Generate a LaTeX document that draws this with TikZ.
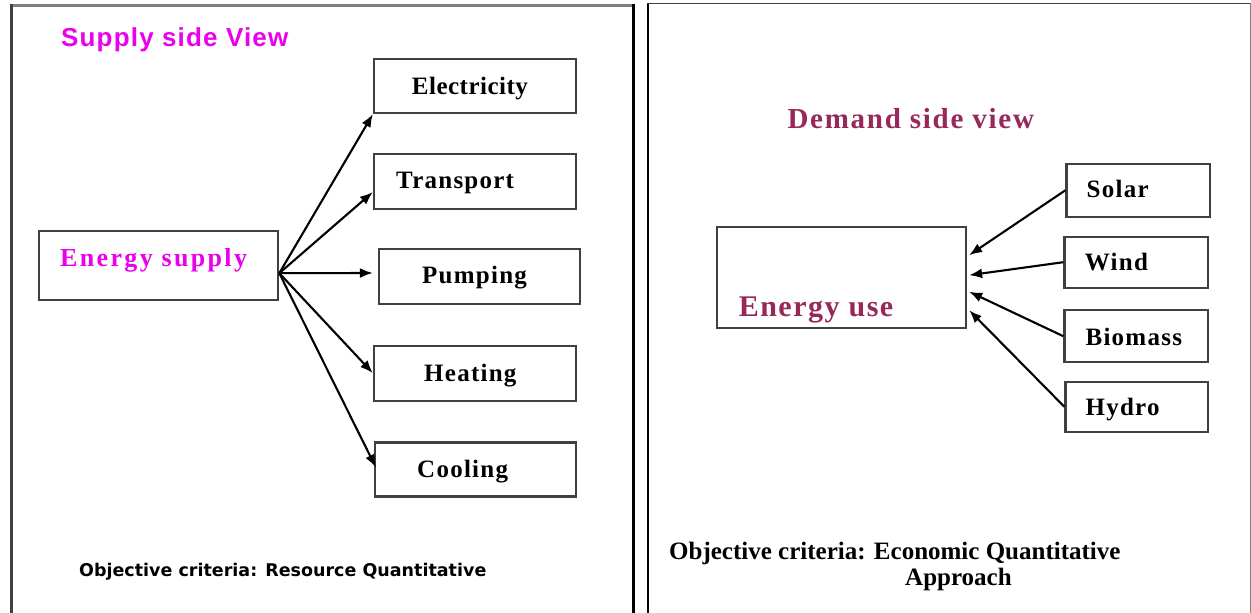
\documentclass[tikz,border=0pt]{standalone}
\usepackage{fontspec}
\setmainfont{Liberation Serif}
\newfontfamily\boxf[LetterSpace=5]{Liberation Serif}
\newfontfamily\tightf[LetterSpace=2]{Liberation Serif}
\newfontfamily\wideserif[LetterSpace=6]{Liberation Serif}
\newfontfamily\esf[LetterSpace=9]{Liberation Serif}
\newfontfamily\titlesans[LetterSpace=4.5]{Liberation Sans}
\newfontfamily\notesans{DejaVu Sans}
\usetikzlibrary{arrows.meta}
\definecolor{mag}{RGB}{235,0,235}
\definecolor{wine}{RGB}{150,40,90}
\definecolor{edge}{RGB}{64,64,64}
\definecolor{lgray}{RGB}{128,128,128}
\begin{document}
\begin{tikzpicture}[x=1pt,y=-1pt,
  box/.style={draw=edge,line width=2.2pt,inner sep=0pt},
  lbl/.style={anchor=base west,inner sep=0pt,font=\boxf\bfseries\fontsize{25}{30}\selectfont},
  arr/.style={line width=2.1pt,-{Latex[length=13pt,width=10pt]}},
  frame/.style={line width=2.7pt}]
\useasboundingbox (0,0) rectangle (1251,613);
% panel frames
\draw[frame,lgray] (10,5.3) -- (633,5.3);
\draw[frame,edge] (11.3,4) -- (11.3,613);
\draw[frame,black] (633.3,4) -- (633.3,613);
\draw[frame,black] (648,2.5) -- (648,613);
\draw[line width=1.7pt,edge] (647,3.5) -- (1250.5,3.5);
\draw[line width=1.5pt,lgray] (1250.3,3) -- (1250.3,613);

% left panel
\node[anchor=base west,inner sep=0pt,text=mag,font=\titlesans\bfseries\fontsize{26}{30}\selectfont] (stitle) at (61,46.7) {Supply side View};
\node[box,minimum width=239pt,minimum height=69pt] (es) at (158.7,265.2) {};
\node[anchor=base west,inner sep=0pt,text=mag,font=\esf\bfseries\fontsize{26}{30}\selectfont] (esT) at (60,266.7) {Energy supply};
\node[box,minimum width=202pt,minimum height=54pt] (elec) at (475,86) {};
\node[box,minimum width=202pt,minimum height=55pt] (trans) at (475,181.5) {};
\node[box,minimum width=201pt,minimum height=55pt] (pump) at (479.5,276.8) {};
\node[box,minimum width=202pt,minimum height=55pt] (heat) at (475,373.2) {};
\node[box,minimum width=201pt,minimum height=54pt] (cool) at (475.5,469.5) {};
\node[lbl,font=\tightf\bfseries\fontsize{25}{30}\selectfont] (elecT) at (411.7,94) {Electricity};
\node[lbl] (transT) at (396,188) {Transport};
\node[lbl] (pumpT) at (422,283.3) {Pumping};
\node[lbl] (heatT) at (424,381.7) {Heating};
\node[lbl] (coolT) at (417,477.7) {Cooling};
\coordinate (src) at ([yshift=-8pt]es.east);
\draw[arr] (src) -- (elec.south west);
\draw[arr] (src) -- ([yshift=-10.5pt]trans.west);
\draw[arr] (src) -- ([xshift=-5pt,yshift=3.8pt]pump.west);
\draw[arr] (src) -- (heat.west);
\draw[arr] (src) -- ([xshift=2pt,yshift=2pt]cool.west);
\node[anchor=base west,inner sep=0pt,font=\notesans\bfseries\fontsize{17.5}{21}\selectfont] (lnote) at (79,576) {Objective criteria: Resource Quantitative};

% right panel
\node[anchor=base west,inner sep=0pt,text=wine,font=\wideserif\bfseries\fontsize{29}{34}\selectfont] (dtitle) at (787.3,128.3) {Demand side view};
\node[box,minimum width=249pt,minimum height=101pt] (eu) at (841.5,277.2) {};
\node[anchor=base west,inner sep=0pt,text=wine,font=\boxf\bfseries\fontsize{30}{34}\selectfont] (euT) at (738.6,316.7) {Energy use};
\node[box,minimum width=143.5pt,minimum height=52.7pt] (solar) at (1138.2,190.3) {};
\node[box,minimum width=143.6pt,minimum height=51pt] (wind) at (1136.2,262.2) {};
\node[box,minimum width=143.6pt,minimum height=52pt] (bio) at (1136.2,336.2) {};
\node[box,minimum width=142.6pt,minimum height=50pt] (hydro) at (1136.7,406.7) {};
\node[lbl] (solarT) at (1086.5,197.3) {Solar};
\node[lbl] (windT) at (1084.7,270.7) {Wind};
\node[lbl] (bioT) at (1085.4,345) {Biomass};
\node[lbl] (hydroT) at (1085.4,415) {Hydro};
\draw[arr] (solar.west) -- ([xshift=2pt,yshift=22pt]eu.east);
\draw[arr] (wind.west) -- ([xshift=2pt,yshift=2pt]eu.east);
\draw[arr] (bio.west) -- ([xshift=2pt,yshift=-14.5pt]eu.east);
\draw[arr] (hydro.west) -- ([xshift=2pt,yshift=-33pt]eu.east);
\node[anchor=base west,inner sep=0pt,font=\bfseries\fontsize{25}{30}\selectfont] (rnote) at (669,559.3) {Objective criteria: Economic Quantitative};
\node[anchor=base west,inner sep=0pt,font=\bfseries\fontsize{25}{30}\selectfont] (rnote2) at (905,585) {Approach};
\end{tikzpicture}
\end{document}
